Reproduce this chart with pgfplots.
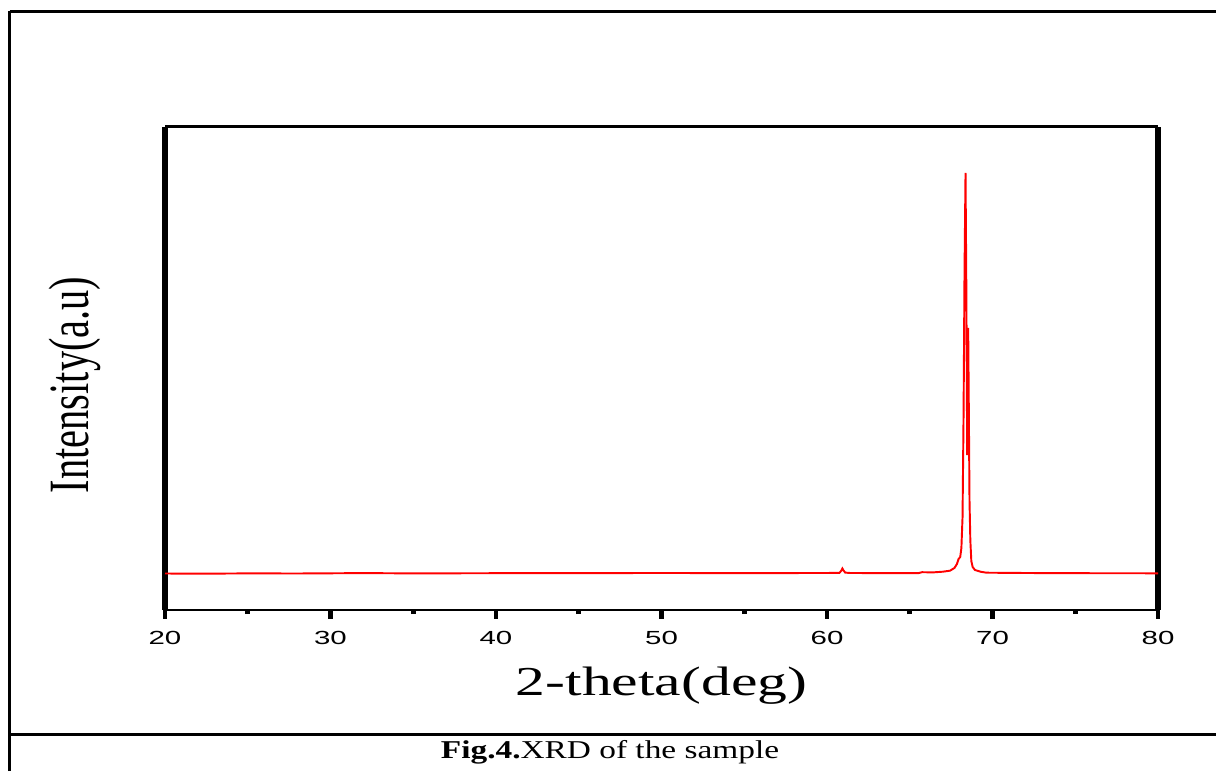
\documentclass[border=0pt]{standalone}
\usepackage{fontspec}
\setmainfont{Liberation Serif}
\setsansfont{Liberation Sans}
\usepackage{pgfplots}
\pgfplotsset{compat=1.18}
\usepackage{pgfplotstable}
\pgfplotstableread{
x y
20 36.5
22 36.3
25 36.6
28 36.5
32 36.9
35 36.6
40 36.8
45 36.9
50 37.0
55 36.9
60 37.0
60.75 37.2
60.85 39
60.93 41.5
61.0 39.5
61.1 37.4
61.4 37.0
65.5 36.8
65.75 37.8
66.4 37.6
67.0 38.3
67.43 39.3
67.7 42
67.85 46
67.95 51
68.05 53
68.12 62
68.19 93
68.25 193
68.31 340
68.37 437
68.42 320
68.47 155
68.53 282
68.57 200
68.61 110
68.66 70
68.72 49
68.8 43
68.94 40
69.3 38.2
69.64 37.3
72 37.0
75 36.8
80 36.7
}\xrd
\begin{document}
\begin{tikzpicture}
\useasboundingbox (0,0) rectangle (12.16,7.71);
% frame of the figure cell
\draw[line width=0.8pt] (0.097,0) -- (0.097,7.597);
\draw[line width=0.8pt] (0.097,7.597) -- (12.2,7.597);
\draw[line width=0.8pt] (0.097,0.363) -- (12.2,0.363);
\begin{axis}[
  at={(1.65cm,1.61cm)}, anchor=south west,
  scale only axis, width=9.93cm, height=4.83cm,
  xmin=20, xmax=80, ymin=0, ymax=483,
  axis lines=box, separate axis lines,
  every outer x axis line/.append style={line width=0.85pt},
  every outer y axis line/.append style={line width=1.5pt},
  xtick={20,30,...,80}, minor xtick={25,35,...,75},
  ytick=\empty,
  xtick pos=bottom, tick align=outside,
  major tick length=2.5pt, minor tick length=1.2pt,
  major tick style={black, line width=1.4pt},
  minor tick style={black, line width=1.3pt},
  /pgf/number format/assume math mode=true,
  xticklabel style={font=\fontsize{5.4}{6}\selectfont\sffamily, xscale=1.55},
  xlabel={2-theta(deg)},
  xlabel style={at={(axis description cs:0.5,-0.176)}, anchor=base,
    font=\fontsize{11.7}{13}\selectfont, xscale=1.45},
  ylabel={Intensity(a.u)},
  ylabel style={at={(axis description cs:-0.0906,0.466)}, anchor=center,
    font=\fontsize{16.2}{17}\selectfont, xscale=0.71},
  clip=false,
]
\addplot[red, line width=0.55pt] table[x=x, y=y] {\xrd};
\end{axis}
\node[anchor=base, font=\fontsize{7.3}{8}\selectfont, xscale=1.3] at (6.10,0.125) {\textbf{Fig.4.}XRD of the sample};
\end{tikzpicture}
\end{document}
